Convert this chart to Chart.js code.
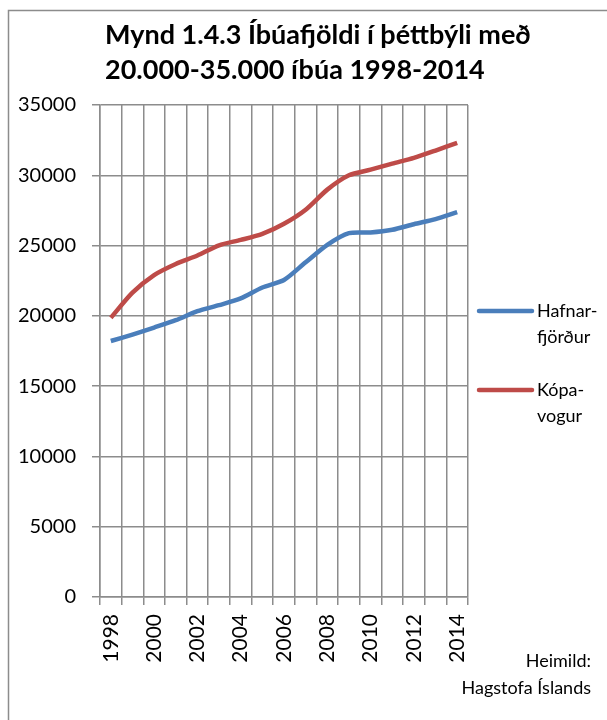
<!DOCTYPE html>
<html>
<head>
<meta charset="utf-8">
<title>Mynd 1.4.3</title>
<script src="https://cdn.jsdelivr.net/npm/chart.js@4.4.1/dist/chart.umd.min.js"></script>
<style>
  html, body { margin: 0; padding: 0; background: #fff; }
  #wrap { width: 607px; height: 720px; position: relative; }
</style>
</head>
<body>
<div id="wrap"><canvas id="chart" width="607" height="720"></canvas></div>
<script>
// Data
const years = ['1998', '1999', '2000', '2001', '2002', '2003', '2004', '2005', '2006',
               '2007', '2008', '2009', '2010', '2011', '2012', '2013', '2014'];
const hafnarfjordur = [18210, 18670, 19170, 19690, 20330, 20760, 21240, 22020, 22550,
                       23810, 25050, 25880, 25930, 26120, 26520, 26880, 27380];
const kopavogur = [19860, 21650, 22900, 23690, 24290, 25020, 25400, 25830, 26550,
                   27550, 28980, 30000, 30400, 30830, 31240, 31760, 32310];

const titleLines = ['Mynd 1.4.3 Íbúafjöldi í þéttbýli með', '20.000-35.000 íbúa 1998-2014'];
const seriesNames = [['Hafnar-', 'fjörður'], ['Kópa-', 'vogur']];
const sourceLines = ['Heimild:', 'Hagstofa Íslands'];

const blue = '#4a7ebb';
const red = '#be4b48';
const gridColor = '#8c8c8c';
const fontFamily = 'Lato, "Open Sans", sans-serif';

// Frame, title, legend and source note
const decor = {
  id: 'decor',
  afterDraw(chart) {
    const ctx = chart.ctx;
    ctx.save();

    // outer frame (only top and left edges are visible)
    ctx.strokeStyle = gridColor;
    ctx.lineWidth = 1.5;
    ctx.beginPath();
    ctx.moveTo(8.5, 720);
    ctx.lineTo(8.5, 10.5);
    ctx.lineTo(607, 10.5);
    ctx.stroke();

    // title
    ctx.fillStyle = '#000';
    ctx.font = 'bold 27px ' + fontFamily;
    ctx.textAlign = 'left';
    ctx.textBaseline = 'alphabetic';
    titleLines.forEach((t, i) => ctx.fillText(t, 105, 44 + i * 35));

    // legend
    const colors = [blue, red];
    const legendY = [311, 390];
    ctx.font = '18px ' + fontFamily;
    ctx.textBaseline = 'middle';
    seriesNames.forEach((lines, i) => {
      ctx.strokeStyle = colors[i];
      ctx.lineWidth = 4.5;
      ctx.lineCap = 'round';
      ctx.beginPath();
      ctx.moveTo(479, legendY[i]);
      ctx.lineTo(532, legendY[i]);
      ctx.stroke();
      lines.forEach((t, j) => ctx.fillText(t, 537, legendY[i] + j * 26));
    });

    // source
    ctx.textAlign = 'right';
    sourceLines.forEach((t, i) => ctx.fillText(t, 591, 661 + i * 27));

    ctx.restore();
  }
};

new Chart(document.getElementById('chart'), {
  type: 'line',
  data: {
    labels: years,
    datasets: [
      {
        label: 'Hafnarfjörður',
        data: hafnarfjordur,
        borderColor: blue,
        backgroundColor: blue,
        borderWidth: 4.5,
        pointRadius: 0,
        tension: 0.25,
        fill: false
      },
      {
        label: 'Kópavogur',
        data: kopavogur,
        borderColor: red,
        backgroundColor: red,
        borderWidth: 4.5,
        pointRadius: 0,
        tension: 0.25,
        fill: false
      }
    ]
  },
  options: {
    responsive: false,
    animation: false,
    devicePixelRatio: 1,
    layout: { padding: { top: 105, right: 139, left: 0, bottom: 0 } },
    plugins: {
      legend: { display: false },
      title: { display: false },
      tooltip: { enabled: false }
    },
    scales: {
      x: {
        offset: true,
        grid: { offset: true, color: gridColor, lineWidth: 1.5, tickLength: 8 },
        border: { color: gridColor, width: 1.5 },
        ticks: {
          autoSkip: false,
          minRotation: 90,
          maxRotation: 90,
          padding: 9,
          color: '#000',
          font: { family: fontFamily, size: 21 },
          callback: (value, index) => (index % 2 === 0 ? years[index] : '')
        },
        afterFit: (scale) => { scale.height = 123; }
      },
      y: {
        min: 0,
        max: 35000,
        ticks: {
          stepSize: 5000,
          padding: 16,
          color: '#000',
          font: { family: fontFamily, size: 20 },
          callback: (value) => String(value)
        },
        grid: { color: gridColor, lineWidth: 1.5, tickLength: 8 },
        border: { color: gridColor, width: 1.5 },
        afterFit: (scale) => { scale.width = 100; }
      }
    }
  },
  plugins: [decor]
});
</script>
</body>
</html>
